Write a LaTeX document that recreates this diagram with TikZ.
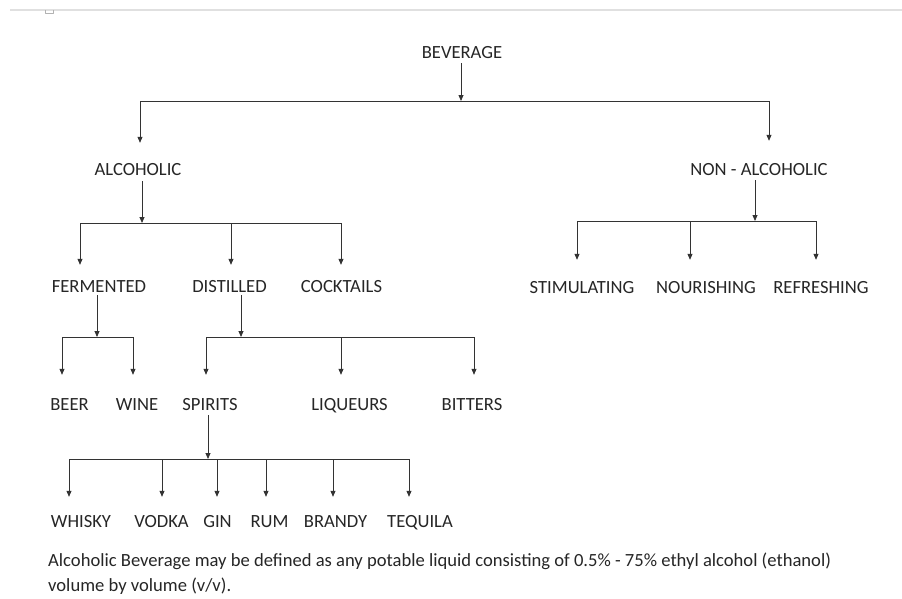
\documentclass[tikz,border=0pt]{standalone}
\usepackage{fontspec}
\setmainfont{Carlito}
\usetikzlibrary{arrows.meta}
\tikzset{
  lbl/.style={inner sep=0pt, text height=12pt, text depth=0pt, text=black!85},
  link/.style={draw=black!80, line width=0.8pt},
  drop/.style={link, -{Triangle[length=6pt,width=5pt]}},
}
\begin{document}
\begin{tikzpicture}[x=1pt, y=-1pt, font=\fontsize{18.6}{25}\selectfont, line join=round]
\useasboundingbox (0,0) rectangle (902,598);
\draw[black!12, line width=1.5pt] (10,10) -- (902,10);
\draw[black!30, line width=1pt] (45,10) -- (45,13) -- (53,13) -- (53,10);
% nodes
\node[lbl] (bev) at (462,52) {BEVERAGE};
\node[lbl] (alc) at (138,169) {ALCOHOLIC};
\node[lbl] (non) at (759,169) {NON - ALCOHOLIC};
\node[lbl] (ferm) at (99,286) {FERMENTED};
\node[lbl] (dist) at (229.5,286) {DISTILLED};
\node[lbl] (cock) at (341.5,286) {COCKTAILS};
\node[lbl] (stim) at (582,287) {STIMULATING};
\node[lbl] (nour) at (706,287) {NOURISHING};
\node[lbl] (refr) at (821,287) {REFRESHING};
\node[lbl] (beer) at (69.5,404) {BEER};
\node[lbl] (wine) at (137,404) {WINE};
\node[lbl] (spir) at (210,404) {SPIRITS};
\node[lbl] (liq) at (349.5,404) {LIQUEURS};
\node[lbl] (bitt) at (472,404) {BITTERS};
\node[lbl] (whis) at (81,521) {WHISKY};
\node[lbl] (vod) at (161.5,521) {VODKA};
\node[lbl] (gin) at (217.5,521) {GIN};
\node[lbl] (rum) at (269.5,521) {RUM};
\node[lbl] (bran) at (335.5,521) {BRANDY};
\node[lbl] (teq) at (420,521) {TEQUILA};
\node[anchor=base west, inner sep=0pt, align=left, text=black!85] (note) at (48,591)
  {Alcoholic Beverage may be defined as any potable liquid consisting of 0.5\% - 75\% ethyl alcohol (ethanol)\\
   volume by volume (v/v).};
% beverage
\draw[drop, shorten <=5pt] (461,0 |- bev.south) -- (461,101);
\draw[link] (140,101) -- (769,101);
\draw[drop, shorten >=20pt] (140,101) -- (140,0 |- alc.north);
\draw[drop, shorten >=22pt] (769,101) -- (769,0 |- non.north);
% alcoholic
\draw[drop, shorten <=6pt] (142,0 |- alc.south) -- (142,223);
\draw[link] (80,223) -- (341,223);
\foreach \x/\n in {80/ferm, 231/dist, 341/cock}
  \draw[drop, shorten >=15pt] (\x,223) -- (\x,0 |- \n.north);
% non - alcoholic
\draw[drop, shorten <=5pt] (755,0 |- non.south) -- (755,221);
\draw[link] (577,221) -- (816,221);
\foreach \x/\n in {577/stim, 690/nour, 816/refr}
  \draw[drop, shorten >=21pt] (\x,221) -- (\x,0 |- \n.north);
% fermented
\draw[drop, shorten <=3pt] (97,0 |- ferm.south) -- (97,337);
\draw[link] (62,337) -- (133,337);
\foreach \x/\n in {62/beer, 133/wine}
  \draw[drop, shorten >=23pt] (\x,337) -- (\x,0 |- \n.north);
% distilled
\draw[drop, shorten <=3pt] (241,0 |- dist.south) -- (241,337);
\draw[link] (206,337) -- (474,337);
\foreach \x/\n in {206/spir, 341/liq, 474/bitt}
  \draw[drop, shorten >=23pt] (\x,337) -- (\x,0 |- \n.north);
% spirits
\draw[drop, shorten <=5pt] (208,0 |- spir.south) -- (208,459);
\draw[link] (69,459) -- (409,459);
\foreach \x/\n in {69/whis, 162/vod, 217/gin, 266/rum, 333/bran, 409/teq}
  \draw[drop, shorten >=18pt] (\x,459) -- (\x,0 |- \n.north);
\end{tikzpicture}
\end{document}
